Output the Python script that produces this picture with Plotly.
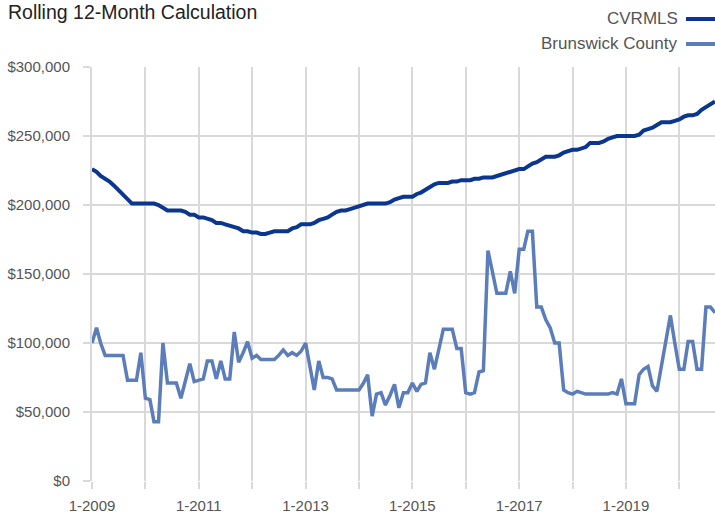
import plotly.graph_objects as go
import pandas as pd

# Monthly values, Jan 2009 .. Sep 2020 (in thousands of dollars)
start_month = "2009-01-01"
n_months = 141
cvrmls_k = [226, 224, 221, 219, 217, 214, 211, 207, 204, 201,
            201, 201, 201, 201, 201, 200, 198, 196, 196, 196,
            196, 195, 193, 193, 191, 191, 190, 189, 187, 187,
            186, 185, 184, 183, 181, 181, 180, 180, 179, 179,
            180, 181, 181, 181, 181, 183, 184, 186, 186, 186,
            187, 189, 190, 191, 193, 195, 196, 196, 197, 198,
            199, 200, 201, 201, 201, 201, 201, 202, 204, 205,
            206, 206, 206, 208, 209, 211, 213, 215, 216, 216,
            216, 217, 217, 218, 218, 218, 219, 219, 220, 220,
            220, 221, 222, 223, 224, 225, 226, 226, 228, 230,
            231, 233, 235, 235, 235, 236, 238, 239, 240, 240,
            241, 242, 245, 245, 245, 246, 248, 249, 250, 250,
            250, 250, 250, 251, 254, 255, 256, 258, 260, 260,
            260, 261, 262, 264, 265, 265, 266, 269, 271, 273,
            275]
brunswick_k = [100, 111, 100, 91, 91, 91, 91, 91, 73, 73,
               73, 93, 60, 59, 43, 43, 100, 71, 71, 71,
               60, 72, 85, 72, 73, 74, 87, 87, 74, 87,
               74, 74, 108, 86, 93, 101, 89, 91, 88, 88,
               88, 88, 91, 95, 91, 93, 91, 94, 100, 82,
               66, 87, 75, 75, 74, 66, 66, 66, 66, 66,
               66, 71, 77, 47, 63, 64, 55, 62, 70, 53,
               64, 64, 71, 65, 70, 71, 93, 81, 96, 110,
               110, 110, 96, 96, 64, 63, 64, 79, 80, 167,
               152, 136, 136, 136, 152, 136, 168, 168, 181, 181,
               126, 126, 117, 111, 100, 100, 66, 64, 63, 65,
               64, 63, 63, 63, 63, 63, 63, 64, 63, 74,
               56, 56, 56, 77, 81, 83, 69, 65, 83, 101,
               120, 100, 81, 81, 101, 101, 81, 81, 126, 126,
               122]
year_ticks = list(range(2009, 2021))
y_ticks = [0, 50000, 100000, 150000, 200000, 250000, 300000]

months = pd.date_range(start_month, periods=n_months, freq="MS")
cvrmls = [v * 1000 for v in cvrmls_k]
brunswick = [v * 1000 for v in brunswick_k]

DARK = "#0b3690"
LIGHT = "#5b7db9"
GRID = "#d9d9d9"
FONT = "Liberation Sans, Arial, Helvetica, sans-serif"

W, H = 715, 515
L, R, T, B = 92, 0, 67, 34
pw, ph = W - L - R, H - T - B

def px(x):
    return (x - L) / pw

def py(y):
    return (H - B - y) / ph

fig = go.Figure()
fig.add_trace(go.Scatter(x=months, y=brunswick, mode="lines", name="Brunswick County",
                         line=dict(color=LIGHT, width=3.5), showlegend=False))
fig.add_trace(go.Scatter(x=months, y=cvrmls, mode="lines", name="CVRMLS",
                         line=dict(color=DARK, width=4), showlegend=False))

tickvals = [f"{y}-01-01" for y in year_ticks]
ticktext = [f"1-{y}" if (y - 2009) % 2 == 0 else "" for y in year_ticks]

fig.update_xaxes(range=[months[0], months[-1]], tickvals=tickvals, ticktext=ticktext,
                 showgrid=True, gridcolor=GRID, gridwidth=2,
                 ticks="outside", ticklen=7, tickwidth=2, tickcolor=GRID,
                 showline=False, zeroline=False, ticklabelstandoff=4,
                 tickfont=dict(family=FONT, size=15, color="#555555"))
fig.update_yaxes(range=[0, 300000], tickvals=y_ticks,
                 ticktext=[f"${v:,.0f}" for v in y_ticks],
                 showgrid=True, gridcolor=GRID, gridwidth=2,
                 ticks="outside", ticklen=7, tickwidth=2, tickcolor=GRID,
                 showline=True, linecolor=GRID, linewidth=2, zeroline=False,
                 ticklabelstandoff=10,
                 tickfont=dict(family=FONT, size=15, color="#555555"))

annotations = [
    dict(text="Rolling 12-Month Calculation", xref="paper", yref="paper",
         x=px(6), y=py(12), xanchor="left", yanchor="middle", showarrow=False,
         font=dict(family=FONT, size=19.5, color="#222222")),
    dict(text="CVRMLS", xref="paper", yref="paper",
         x=px(680), y=py(19), xanchor="right", yanchor="middle", showarrow=False,
         font=dict(family=FONT, size=17, color="#555555")),
    dict(text="Brunswick County", xref="paper", yref="paper",
         x=px(680), y=py(44), xanchor="right", yanchor="middle", showarrow=False,
         font=dict(family=FONT, size=17, color="#555555")),
]
shapes = [
    dict(type="line", xref="paper", yref="paper", x0=px(686), x1=px(716), y0=py(19), y1=py(19),
         line=dict(color=DARK, width=4)),
    dict(type="line", xref="paper", yref="paper", x0=px(686), x1=px(716), y0=py(44), y1=py(44),
         line=dict(color=LIGHT, width=4)),
]

fig.update_layout(width=W, height=H, margin=dict(l=L, r=R, t=T, b=B, autoexpand=False),
                  plot_bgcolor="white", paper_bgcolor="white",
                  annotations=annotations, shapes=shapes, showlegend=False)

fig.write_html("out.html", config={"displayModeBar": False},
               post_script="document.body.style.margin='0';document.body.style.overflow='hidden';")
